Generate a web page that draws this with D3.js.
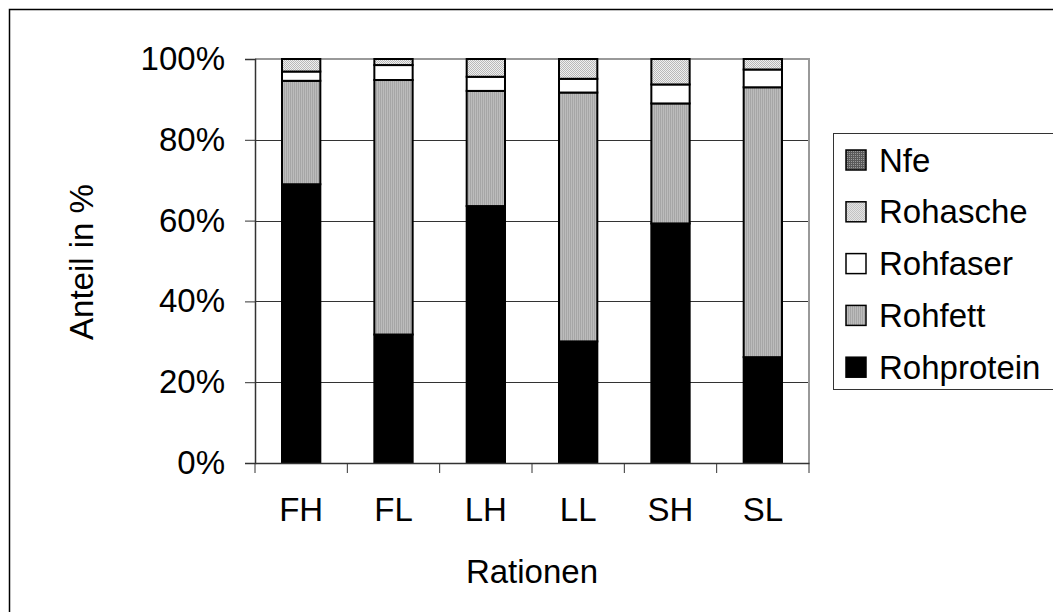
<!DOCTYPE html>
<html>
<head>
<meta charset="utf-8">
<script src="https://cdn.jsdelivr.net/npm/d3@7"></script>
<style>
  body { margin: 0; background: #fff; }
  text { font-family: "Liberation Sans", Arial, sans-serif; fill: #000; }
</style>
</head>
<body>
<div id="chart"></div>
<script>
// data (percent of each ration)
const rationen = ["FH", "FL", "LH", "LL", "SH", "SL"];
const rohprotein = [69.0, 31.8, 63.6, 30.1, 59.3, 26.2];
const rohfett    = [25.6, 63.0, 28.5, 61.6, 29.7, 66.8];
const rohfaser   = [2.3, 3.7, 3.5, 3.4, 4.7, 4.4];
const rohasche   = [3.1, 1.5, 4.4, 4.9, 6.3, 2.6];
const nfe        = [0, 0, 0, 0, 0, 0];
const serien = ["Rohprotein", "Rohfett", "Rohfaser", "Rohasche", "Nfe"];
const yTicks = [0, 20, 40, 60, 80, 100];

const width = 1053, height = 612;
const plot = { left: 255, right: 809, top: 59, bottom: 463 };

let rows = rationen.map((r, i) => ({
    ration: r,
    Rohprotein: rohprotein[i],
    Rohfett: rohfett[i],
    Rohfaser: rohfaser[i],
    Rohasche: rohasche[i],
    Nfe: nfe[i]
}));

let svg = d3.select("#chart").append("svg")
    .attr("width", width)
    .attr("height", height);

// fill patterns like the old office chart
let defs = svg.append("defs");

let pFett = defs.append("pattern").attr("id", "p-Rohfett")
    .attr("width", 2).attr("height", 2).attr("patternUnits", "userSpaceOnUse");
pFett.append("rect").attr("width", 2).attr("height", 2).attr("fill", "#bcbcbc");
pFett.append("rect").attr("width", 1).attr("height", 2).attr("fill", "#a6a6a6");

let pAsche = defs.append("pattern").attr("id", "p-Rohasche")
    .attr("width", 2).attr("height", 2).attr("patternUnits", "userSpaceOnUse");
pAsche.append("rect").attr("width", 2).attr("height", 2).attr("fill", "#efefef");
pAsche.append("rect").attr("width", 1).attr("height", 1).attr("fill", "#b8b8b8");
pAsche.append("rect").attr("x", 1).attr("y", 1).attr("width", 1).attr("height", 1).attr("fill", "#b8b8b8");

let pNfe = defs.append("pattern").attr("id", "p-Nfe")
    .attr("width", 2).attr("height", 2).attr("patternUnits", "userSpaceOnUse");
pNfe.append("rect").attr("width", 2).attr("height", 2).attr("fill", "#9a9a9a");
pNfe.append("rect").attr("width", 1).attr("height", 2).attr("fill", "#5a5a5a");
pNfe.append("rect").attr("width", 2).attr("height", 1).attr("fill", "#5a5a5a");

const fills = {
    Rohprotein: "#000",
    Rohfett: "url(#p-Rohfett)",
    Rohfaser: "#fff",
    Rohasche: "url(#p-Rohasche)",
    Nfe: "url(#p-Nfe)"
};

// outer chart frame (runs off the right and bottom edge)
svg.append("rect")
    .attr("x", 9.5).attr("y", 9.5)
    .attr("width", 1060).attr("height", 620)
    .attr("fill", "none").attr("stroke", "#000").attr("stroke-width", 1.5);

let x = d3.scaleBand()
    .domain(rationen)
    .range([plot.left, plot.right])
    .paddingInner(0.585)
    .paddingOuter(0.2925);

let y = d3.scaleLinear()
    .domain([0, 100])
    .range([plot.bottom, plot.top]);

// gridlines
svg.append("g")
    .selectAll("line")
    .data(yTicks.filter(t => t > 0 && t < 100))
    .enter().append("line")
    .attr("x1", plot.left).attr("x2", plot.right)
    .attr("y1", d => Math.round(y(d)) + 0.5).attr("y2", d => Math.round(y(d)) + 0.5)
    .attr("stroke", "#333").attr("stroke-width", 1);

// plot area border (top + right in grey)
svg.append("path")
    .attr("d", `M${plot.left},${plot.top} H${plot.right} V${plot.bottom}`)
    .attr("fill", "none").attr("stroke", "#999").attr("stroke-width", 2);

// stacked bars
let stack = d3.stack().keys(serien);
let layers = stack(rows);

svg.append("g")
    .selectAll("g")
    .data(layers)
    .enter().append("g")
    .attr("fill", d => fills[d.key])
    .selectAll("rect")
    .data(d => d.filter(s => s[1] - s[0] > 0))
    .enter().append("rect")
    .attr("x", d => x(d.data.ration))
    .attr("width", x.bandwidth())
    .attr("y", d => y(d[1]))
    .attr("height", d => y(d[0]) - y(d[1]))
    .attr("stroke", "#000")
    .attr("stroke-width", 2);

// y axis
let yAxis = svg.append("g")
    .attr("transform", `translate(${plot.left},0)`)
    .call(d3.axisLeft(y).tickValues(yTicks).tickFormat(d => d + "%").tickSize(10).tickPadding(20));
yAxis.select(".domain").attr("stroke", "#333").attr("stroke-width", 1.5);
yAxis.selectAll(".tick line").attr("stroke", "#333");
yAxis.selectAll("text").style("font-size", "33px").attr("fill", "#000");

// x axis: labels centered, ticks between the categories
let xAxis = svg.append("g")
    .attr("transform", `translate(0,${plot.bottom})`)
    .call(d3.axisBottom(x).tickSize(0).tickPadding(35));
xAxis.select(".domain").attr("stroke", "#333").attr("stroke-width", 1.5);
xAxis.selectAll("text").style("font-size", "33px").attr("fill", "#000");

svg.append("g")
    .selectAll("line")
    .data(d3.range(rationen.length + 1))
    .enter().append("line")
    .attr("x1", i => plot.left + i * x.step()).attr("x2", i => plot.left + i * x.step())
    .attr("y1", plot.bottom).attr("y2", plot.bottom + 10)
    .attr("stroke", "#333").attr("stroke-width", 1);

// axis titles
svg.append("text")
    .attr("x", (plot.left + plot.right) / 2)
    .attr("y", 583)
    .attr("text-anchor", "middle")
    .style("font-size", "33px")
    .text("Rationen");

svg.append("text")
    .attr("transform", "translate(93,262) rotate(-90)")
    .attr("text-anchor", "middle")
    .style("font-size", "33px")
    .text("Anteil in %");

// legend (reverse of the stack order)
let legend = svg.append("g");
legend.append("rect")
    .attr("x", 833.5).attr("y", 133.5)
    .attr("width", 240).attr("height", 256)
    .attr("fill", "#fff").attr("stroke", "#333").attr("stroke-width", 1);

let items = legend.selectAll(".item")
    .data(serien.slice().reverse())
    .enter().append("g")
    .attr("class", "item")
    .attr("transform", (d, i) => `translate(846,${160 + i * 51.8})`);

items.append("rect")
    .attr("x", 0).attr("y", -10)
    .attr("width", 20).attr("height", 20)
    .attr("fill", d => fills[d])
    .attr("stroke", "#000").attr("stroke-width", 1.5);

items.append("text")
    .attr("x", 33)
    .attr("dy", "0.35em")
    .style("font-size", "33px")
    .text(d => d);
</script>
</body>
</html>
